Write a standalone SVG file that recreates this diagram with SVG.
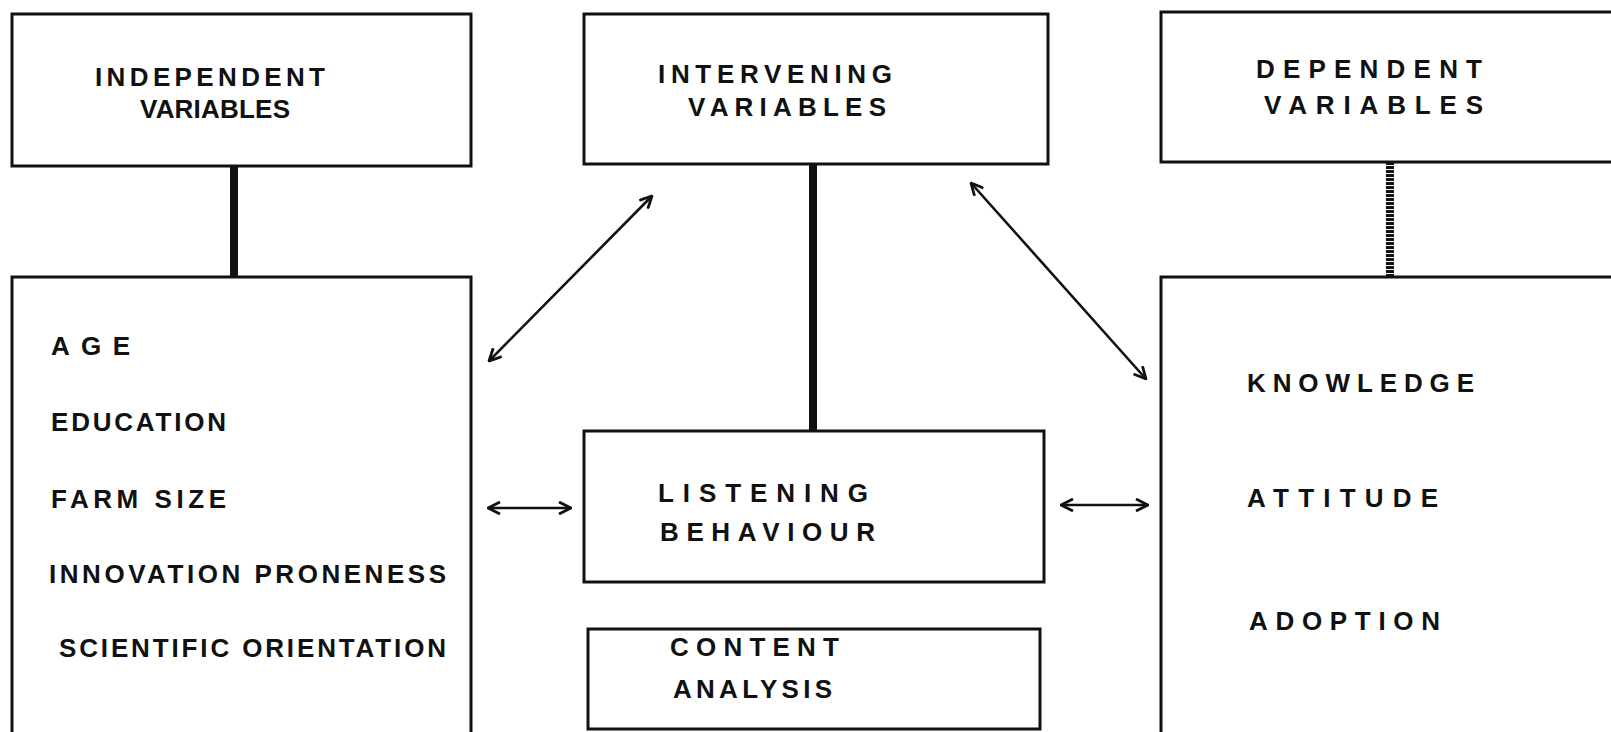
<svg xmlns="http://www.w3.org/2000/svg" width="1611" height="732" viewBox="0 0 1611 732">
<style>
.box{fill:#fff;stroke:#111;stroke-width:3}
.t{font-family:"Liberation Sans",Arial,sans-serif;font-weight:bold;font-size:26px;fill:#111}
.stem{stroke:#111;stroke-width:8;fill:none}
.arr{stroke:#111;stroke-width:2.6;fill:none;marker-start:url(#ah);marker-end:url(#ah)}
</style>
<defs>
<marker id="ah" viewBox="0 0 14 14" refX="13" refY="7" markerWidth="14" markerHeight="14" markerUnits="userSpaceOnUse" orient="auto-start-reverse">
<path d="M1,1 L13,7 L1,13" fill="none" stroke="#111" stroke-width="2.8"/>
</marker>
</defs>
<rect width="1611" height="732" fill="#fff"/>
<g id="connectors">
<line class="stem" x1="234" y1="166" x2="234" y2="277"/>
<line class="stem" x1="813" y1="164" x2="813" y2="431"/>
<line class="stem" x1="1390" y1="162" x2="1390" y2="277" stroke="#444" stroke-dasharray="3 1"/>
<line class="arr" x1="489" y1="361" x2="652" y2="196"/>
<line class="arr" x1="971" y1="183" x2="1146" y2="379"/>
<line class="arr" x1="488" y1="508" x2="571" y2="508"/>
<line class="arr" x1="1061" y1="505" x2="1148" y2="505"/>
</g>
<g id="independent">
<rect class="box" x="12" y="14" width="459" height="152"/>
<text class="t" x="95" y="86" textLength="230" lengthAdjust="spacing">INDEPENDENT</text>
<text class="t" x="140" y="118" font-size="23" textLength="150" lengthAdjust="spacing">VARIABLES</text>
</g>
<g id="intervening">
<rect class="box" x="584" y="14" width="464" height="150"/>
<text class="t" x="658" y="83" textLength="234" lengthAdjust="spacing">INTERVENING</text>
<text class="t" x="688" y="116" textLength="198" lengthAdjust="spacing">VARIABLES</text>
</g>
<g id="dependent">
<rect class="box" x="1161" y="12" width="460" height="150"/>
<text class="t" x="1256" y="78" textLength="226" lengthAdjust="spacing">DEPENDENT</text>
<text class="t" x="1264" y="114" textLength="219" lengthAdjust="spacing">VARIABLES</text>
</g>
<g id="independent-list">
<rect class="box" x="12" y="277" width="459" height="460"/>
<text class="t" x="51" y="355" textLength="79" lengthAdjust="spacing">AGE</text>
<text class="t" x="51" y="431" textLength="175" lengthAdjust="spacing">EDUCATION</text>
<text class="t" x="51" y="508" textLength="175" lengthAdjust="spacing">FARM SIZE</text>
<text class="t" x="49" y="583" textLength="397" lengthAdjust="spacing">INNOVATION PRONENESS</text>
<text class="t" x="59" y="657" textLength="387" lengthAdjust="spacing">SCIENTIFIC ORIENTATION</text>
</g>
<g id="listening">
<rect class="box" x="584" y="431" width="460" height="151"/>
<text class="t" x="658" y="502" textLength="210" lengthAdjust="spacing">LISTENING</text>
<text class="t" x="660" y="541" textLength="215" lengthAdjust="spacing">BEHAVIOUR</text>
</g>
<g id="content">
<rect class="box" x="588" y="629" width="452" height="100"/>
<text class="t" x="670" y="656" textLength="169" lengthAdjust="spacing">CONTENT</text>
<text class="t" x="673" y="698" textLength="159" lengthAdjust="spacing">ANALYSIS</text>
</g>
<g id="dependent-list">
<rect class="box" x="1161" y="277" width="460" height="460"/>
<text class="t" x="1247" y="392" textLength="227" lengthAdjust="spacing">KNOWLEDGE</text>
<text class="t" x="1247" y="507" textLength="191" lengthAdjust="spacing">ATTITUDE</text>
<text class="t" x="1249" y="630" textLength="191" lengthAdjust="spacing">ADOPTION</text>
</g>
</svg>
